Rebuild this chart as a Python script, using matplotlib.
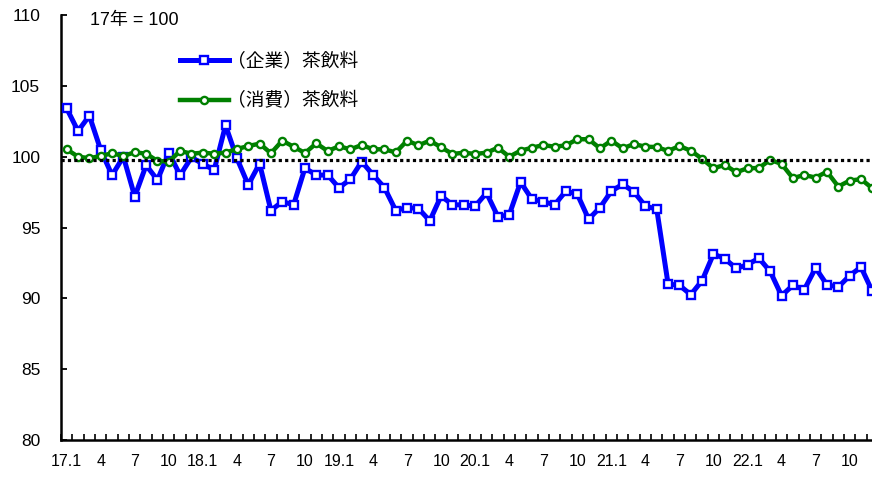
import matplotlib
matplotlib.use("Agg")
import matplotlib.pyplot as plt
import numpy as np

plt.rcParams['font.family'] = ['Liberation Sans', 'Noto Sans CJK JP', 'DejaVu Sans']

# Monthly index, Jan 2017 - Dec 2022 (2017 = 100)
months = [f"{y}.{m}" for y in range(17, 23) for m in range(1, 13)]

corporate = [
    103.41, 101.81, 102.89, 100.47, 98.69, 100.00, 97.18, 99.39, 98.36, 100.28, 98.69, 99.95,
    99.49, 99.06, 102.21, 99.89, 98.01, 99.51, 96.20, 96.83, 96.60, 99.20, 98.69, 98.71,
    97.80, 98.41, 99.65, 98.71, 97.82, 96.20, 96.41, 96.34, 95.47, 97.23, 96.60, 96.60,
    96.51, 97.44, 95.77, 95.89, 98.20, 97.00, 96.83, 96.60, 97.58, 97.35, 95.59, 96.41,
    97.56, 98.06, 97.51, 96.51, 96.30, 91.01, 90.92, 90.26, 91.25, 93.13, 92.80, 92.11,
    92.37, 92.84, 91.90, 90.19, 90.92, 90.61, 92.14, 90.96, 90.80, 91.60, 92.21, 90.49,
]

consumer = [
    100.52, 100.00, 99.89, 100.05, 100.24, 100.05, 100.31, 100.21, 99.70, 99.65, 100.40, 100.21,
    100.28, 100.21, 100.28, 100.54, 100.75, 100.92, 100.24, 101.13, 100.70, 100.26, 100.94, 100.40,
    100.73, 100.52, 100.82, 100.52, 100.52, 100.30, 101.13, 100.80, 101.13, 100.66, 100.19, 100.28,
    100.19, 100.28, 100.63, 100.00, 100.42, 100.63, 100.82, 100.70, 100.80, 101.23, 101.23, 100.59,
    101.13, 100.59, 100.89, 100.70, 100.68, 100.40, 100.75, 100.42, 99.85, 99.18, 99.42, 98.90,
    99.18, 99.20, 99.77, 99.49, 98.48, 98.71, 98.52, 98.94, 97.89, 98.31, 98.41, 97.77,
]

tick_labels = ["17.1", "4", "7", "10", "18.1", "4", "7", "10", "19.1", "4", "7", "10",
               "20.1", "4", "7", "10", "21.1", "4", "7", "10", "22.1", "4", "7", "10"]

baseline = 99.8

fig = plt.figure(figsize=(8.72, 4.79), dpi=100)
ax = fig.add_axes([61 / 872, 39 / 479, 817 / 872, 425 / 479])

x = np.arange(len(months))
ax.plot(x, corporate, color='#0000FF', lw=3.6, marker='s', ms=5.5,
        mfc='white', mec='#0000FF', mew=1.7, label='（企業）茶飲料', zorder=3)
ax.plot(x, consumer, color='#008000', lw=3.2, marker='o', ms=5.2,
        mfc='white', mec='#008000', mew=1.7, label='（消費）茶飲料', zorder=3)
ax.axhline(baseline, color='black', lw=2.3, ls=(0, (1, 1)), zorder=5)

ax.set_xlim(-0.5, len(months) - 0.5)
ax.set_ylim(80, 110)
ax.set_yticks(np.arange(80, 111, 5))
ax.tick_params(axis='y', direction='in', length=4.5, width=1.3, pad=15, labelsize=12.5)

ax.set_xticks(np.arange(0, len(months), 3))
ax.set_xticklabels(tick_labels)
ax.set_xticks(np.arange(-0.5, len(months), 1), minor=True)
ax.tick_params(axis='x', which='major', length=0, pad=10, labelsize=11.5)
ax.tick_params(axis='x', which='minor', direction='in', length=4, width=1.2)

for side in ('top', 'right'):
    ax.spines[side].set_visible(False)
for side in ('left', 'bottom'):
    ax.spines[side].set_linewidth(1.8)

fig.text(90 / 872, 1 - 20 / 479, '17年 = 100', fontsize=13, va='center', ha='left')

leg = ax.legend(loc='upper left', bbox_to_anchor=(180 / 872, 1 - 53 / 479),
                bbox_transform=fig.transFigure, frameon=False, fontsize=13.5,
                handlelength=2.6, handletextpad=-0.1, labelspacing=1.15,
                borderpad=0, borderaxespad=0)

fig.savefig('out.png', dpi=100)
